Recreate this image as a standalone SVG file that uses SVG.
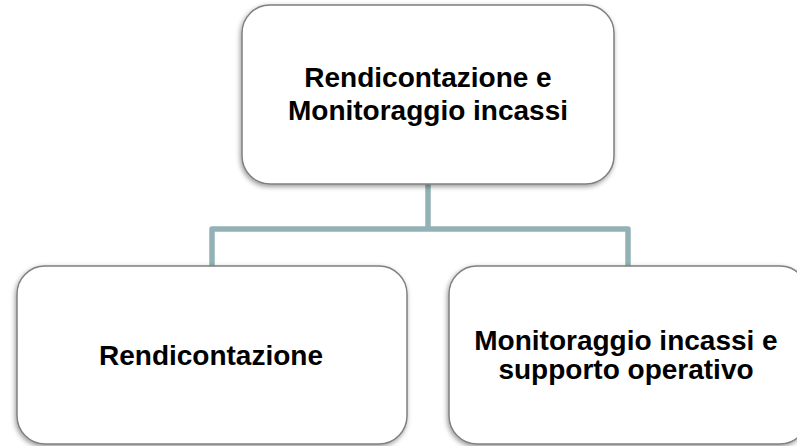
<svg xmlns="http://www.w3.org/2000/svg" width="797" height="446" viewBox="0 0 797 446">
  <defs>
    <filter id="sh" x="-10%" y="-10%" width="120%" height="125%">
      <feDropShadow dx="-1" dy="2" stdDeviation="2.5" flood-color="#000" flood-opacity="0.4"/>
    </filter>
  </defs>
  <style>
    .box { fill: #ffffff; stroke: #7f7f7f; stroke-width: 1.5; filter: url(#sh); }
    .lbl { font-family: "Liberation Sans", Arial, sans-serif; font-weight: bold; font-size: 28px; fill: #000; text-anchor: middle; }
    .conn { fill: none; stroke: #92b2b6; stroke-width: 5.5; stroke-linejoin: round; }
  </style>
  <rect width="797" height="446" fill="#ffffff"/>
  <g id="connectors">
    <path class="conn" d="M428,184 V229"/>
    <path class="conn" d="M212,266 V229 H628 V266"/>
  </g>
  <g id="node-top">
    <rect class="box" x="242" y="5" width="372" height="179" rx="28" ry="28"/>
    <text class="lbl" x="428" y="87">Rendicontazione e</text>
    <text class="lbl" x="428" y="120">Monitoraggio incassi</text>
  </g>
  <g id="node-left">
    <rect class="box" x="17" y="266" width="390" height="178" rx="28" ry="28"/>
    <text class="lbl" x="211" y="365">Rendicontazione</text>
  </g>
  <g id="node-right">
    <rect class="box" x="449" y="266" width="359" height="178" rx="28" ry="28"/>
    <text class="lbl" x="626" y="350">Monitoraggio incassi e</text>
    <text class="lbl" x="626" y="379">supporto operativo</text>
  </g>
</svg>
